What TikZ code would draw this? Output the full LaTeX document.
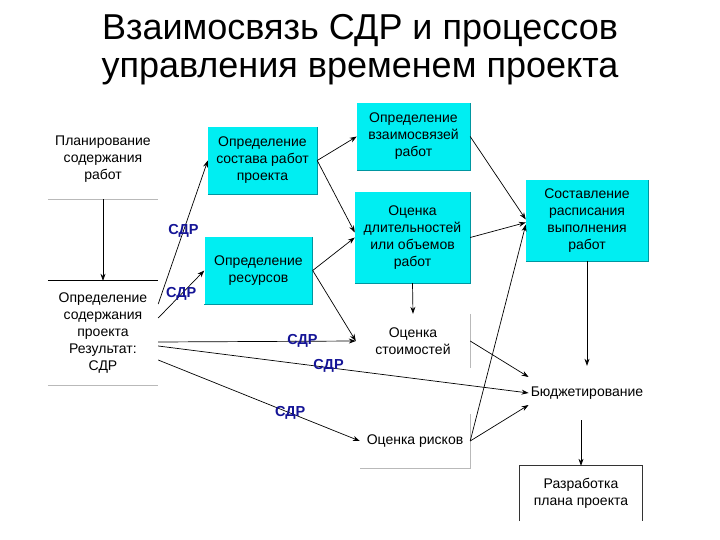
\documentclass[tikz,border=0pt]{standalone}
\usepackage{fontspec}
\setmainfont{Liberation Sans}
\usetikzlibrary{arrows.meta, calc}
\definecolor{boxcyan}{RGB}{0,238,242}
\definecolor{boxedge}{RGB}{0,150,160}
\definecolor{sdrblue}{RGB}{20,20,150}

\begin{document}
\begin{tikzpicture}[x=1pt, y=-1pt,
        proc/.style={rectangle, fill=boxcyan, align=center, inner sep=2pt, font=\fontsize{14}{17}\selectfont},
        plain/.style={rectangle, align=center, inner sep=2pt, font=\fontsize{14}{17}\selectfont},
        arrow/.style={-{Stealth[length=7pt, width=5pt]}, line width=0.7pt},
        sdr/.style={inner sep=0pt, text=sdrblue, font=\bfseries\fontsize{14.5}{16}\selectfont},
        rule/.style={gray!55, line width=0.9pt}
    ]
        \useasboundingbox (0,0) rectangle (720,540);

        % Title
        \node[align=center, font=\fontsize{36}{38}\selectfont] (title) at (360,50)
            {Взаимосвязь СДР и процессов\\управления временем проекта};

        % Left column
        \node[plain, minimum width=110, minimum height=80] (plan) at (103,159)
            {Планирование\\содержания\\работ};
        \node[plain, minimum width=110, minimum height=104] (scope) at (103,333)
            {Определение\\содержания\\проекта\\Результат:\\СДР};
        \draw[rule] (plan.south west) -- (plan.south east);
        \draw[line width=0.9pt] (scope.north west) -- (scope.north east);
        \draw[rule] (scope.south west) -- (scope.south east);

        % Cyan processes
        \node[proc, minimum width=109, minimum height=67] (comp) at (262.5,160.5)
            {Определение\\состава работ\\проекта};
        \node[proc, minimum width=108, minimum height=67] (res) at (258.5,270.5)
            {Определение\\ресурсов};
        \node[proc, minimum width=113, minimum height=67] (links) at (413.5,136.5)
            {Определение\\взаимосвязей\\работ};
        \node[proc, minimum width=115, minimum height=91] (dur) at (412.5,237.5)
            {Оценка\\длительностей\\или объемов\\работ};
        \node[proc, minimum width=122, minimum height=81] (sched) at (587,220.5)
            {Составление\\расписания\\выполнения\\работ};
        \foreach \b in {comp, res, links, dur, sched}
            \draw[boxedge, line width=0.8pt] (\b.south west) -- (\b.south east) -- (\b.north east);

        % Other processes
        \node[plain, minimum width=114, minimum height=54] (cost) at (413,341)
            {Оценка\\стоимостей};
        \node[plain, minimum width=110, minimum height=54] (risk) at (415,441)
            {Оценка рисков};
        \node[plain, minimum height=54] (budget) at (587,393) {Бюджетирование};
        \node[plain, minimum width=122, minimum height=55] (plan2) at (581,493.5)
            {Разработка\\плана проекта};
        \draw[rule] (cost.north east) -- (cost.south east);
        \draw[rule] (risk.north east) -- (risk.south east) -- (risk.south west);
        \draw[line width=0.8pt, black!80] (plan2.south west) -- (plan2.north west)
            -- (plan2.north east) -- (plan2.south east);

        % Arrows
        \draw[arrow] (plan.south) -- (scope.north);
        \draw[arrow] ([yshift=29pt]scope.east) -- node[sdr, pos=0.51] {СДР} (comp.west);
        \draw[arrow] ([yshift=15pt]scope.east) -- node[sdr, pos=0.5] {СДР} (res.west);
        \draw[arrow] ([yshift=-9pt]scope.east) -- node[sdr, pos=0.73] {СДР} (cost.west);
        \draw[arrow] ([yshift=-13pt]scope.east) -- node[sdr, pos=0.46, yshift=2pt] {СДР} (budget.west);
        \draw[arrow] ([yshift=-27pt]scope.east) -- node[sdr, pos=0.655] {СДР} (risk.west);

        \draw[arrow] (comp.east) -- (links.west);
        \draw[arrow] (comp.east) -- ([yshift=5pt]dur.west);
        \draw[arrow] (res.east) -- (dur.west);
        \draw[arrow] (res.east) -- (cost.west);

        \draw[arrow] (links.east) -- ([yshift=1pt]sched.west);
        \draw[arrow] (dur.east) -- ([yshift=-2pt]sched.west);
        \draw[arrow] (risk.east) -- ([yshift=-4pt]sched.west);
        \draw[arrow] (dur.south) -- (cost.north);

        \draw[arrow] (cost.east) -- ([yshift=16pt]budget.west);
        \draw[arrow] (risk.east) -- ([yshift=-12pt]budget.west);
        \draw[arrow] (sched.south) -- (budget.north);
        \draw[arrow] (plan2.north |- budget.south) -- (plan2.north);

    \end{tikzpicture}
\end{document}
